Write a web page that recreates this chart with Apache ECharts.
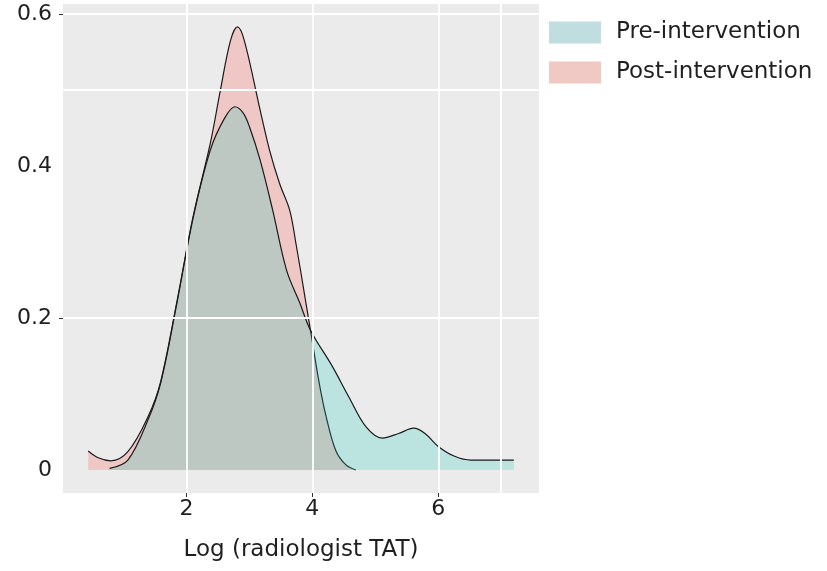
<!DOCTYPE html>
<html>
<head>
<meta charset="utf-8" />
<title>Log radiologist TAT density</title>
<script src="https://cdn.jsdelivr.net/npm/echarts@6/dist/echarts.min.js"></script>
<style>
  html, body { margin: 0; padding: 0; background: #fff; }
  #main { width: 827px; height: 571px; }
</style>
</head>
<body>
<div id="main"></div>
<script type="text/javascript">
    // density curves
    var preX  = [0.78, 1.07, 1.39, 1.59, 1.85, 2.11, 2.38, 2.6, 2.77, 2.9, 3.0, 3.17, 3.37, 3.59, 3.8, 3.97, 4.32, 4.58, 4.85, 5.11, 5.37, 5.61, 5.79, 6.0, 6.26, 6.52, 6.8, 7.2];
    var preY  = [0.002, 0.013, 0.066, 0.114, 0.22, 0.333, 0.421, 0.462, 0.478, 0.47, 0.452, 0.408, 0.342, 0.263, 0.22, 0.184, 0.136, 0.096, 0.057, 0.042, 0.048, 0.055, 0.048, 0.031, 0.018, 0.013, 0.013, 0.013];
    var postX = [0.44, 0.6, 0.8, 1.07, 1.39, 1.59, 1.85, 2.11, 2.38, 2.54, 2.7, 2.81, 2.92, 3.17, 3.32, 3.48, 3.64, 3.74, 3.9, 3.97, 4.11, 4.22, 4.37, 4.53, 4.69];
    var postY = [0.025, 0.016, 0.012, 0.024, 0.07, 0.116, 0.222, 0.335, 0.43, 0.5, 0.565, 0.583, 0.565, 0.474, 0.421, 0.377, 0.342, 0.298, 0.219, 0.184, 0.114, 0.07, 0.026, 0.007, 0.0];

    var xTicks = [2, 4, 6];
    var yTicks = [0, 0.2, 0.4, 0.6];
    var yTickMarks = [0.2, 0.6];
    var xGrid = [2, 4, 6, 7];
    var yGrid = [0.2, 0.5, 0.6];

    function pairs(xs, ys) {
        var res = [];
        for (var i = 0; i < xs.length; i++) res.push([xs[i], ys[i]]);
        return res;
    }

    var gridLines = [];
    xGrid.forEach(function (v) { gridLines.push({ xAxis: v }); });
    yGrid.forEach(function (v) { gridLines.push({ yAxis: v }); });

    var font = 'DejaVu Sans';
    var ink = '#1f1f1f';
    var myChart = echarts.init(document.getElementById('main'));
    var option = {
        animation: false,
        textStyle: { fontFamily: font },
        grid: {
            left: 63, right: 288, top: 4, bottom: 78,
            show: true, backgroundColor: '#EBEBEB', borderWidth: 0
        },
        legend: {
            orient: 'vertical',
            left: 544, top: 16,
            itemWidth: 52, itemHeight: 22, itemGap: 17,
            icon: 'rect',
            textStyle: { fontSize: 23, color: ink, fontFamily: font, padding: [0, 0, 0, 10] },
            itemStyle: { borderWidth: 0 },
            data: [
                { name: 'Pre-intervention', itemStyle: { color: '#C0DEDF' } },
                { name: 'Post-intervention', itemStyle: { color: '#F0C8C4' } }
            ]
        },
        xAxis: {
            type: 'value',
            min: 0.04, max: 7.6,
            name: 'Log (radiologist TAT)',
            nameLocation: 'middle',
            nameGap: 46,
            nameTextStyle: { fontSize: 23, color: ink, fontFamily: font },
            axisLine: { show: false, onZero: false },
            axisTick: { show: true, length: 4, lineStyle: { color: '#333' }, customValues: xTicks },
            axisLabel: { fontSize: 22, color: ink, margin: 5, customValues: xTicks },
            splitLine: { show: false }
        },
        yAxis: {
            type: 'value',
            min: -0.0303, max: 0.6132,
            axisLine: { show: false },
            axisTick: { show: true, length: 4, lineStyle: { color: '#333' }, customValues: yTickMarks },
            axisLabel: { fontSize: 22, color: ink, margin: 11, customValues: yTicks },
            splitLine: { show: false }
        },
        series: [
            {
                name: 'gridlines',
                type: 'line',
                z: 1,
                data: [],
                silent: true,
                markLine: {
                    silent: true,
                    symbol: 'none',
                    label: { show: false },
                    lineStyle: { color: '#ffffff', width: 1.8, type: 'solid' },
                    data: gridLines
                }
            },
            {
                name: 'Post-intervention',
                type: 'line',
                z: 2,
                smooth: 0.35,
                showSymbol: false,
                itemStyle: { color: '#F0C8C4' },
                lineStyle: { color: '#1a1a1a', width: 1.2 },
                areaStyle: { color: 'rgba(248,118,109,0.30)', opacity: 1 },
                data: pairs(postX, postY)
            },
            {
                name: 'Pre-intervention',
                type: 'line',
                z: 3,
                smooth: 0.35,
                showSymbol: false,
                itemStyle: { color: '#C0DEDF' },
                lineStyle: { color: '#1a1a1a', width: 1.2 },
                areaStyle: { color: 'rgba(12,198,186,0.215)', opacity: 1 },
                data: pairs(preX, preY)
            }
        ]
    };
    myChart.setOption(option);
</script>
</body>
</html>
